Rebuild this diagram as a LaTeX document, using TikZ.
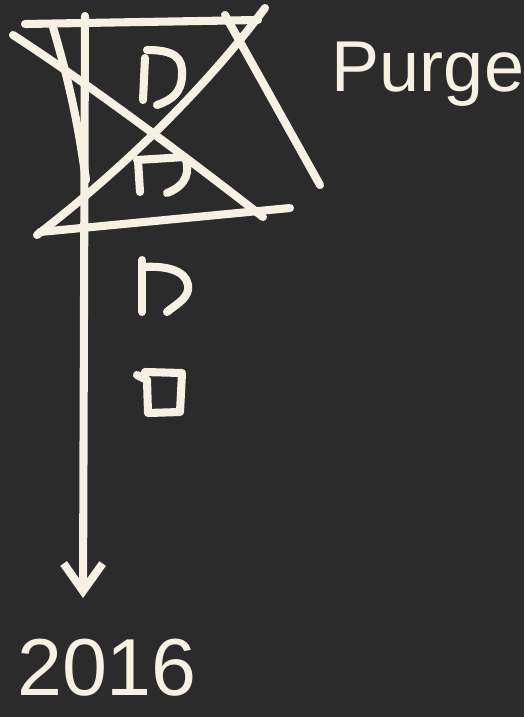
\documentclass[tikz,border=0pt]{standalone}
\usepackage{fontspec}
\setmainfont{Liberation Sans}
\usetikzlibrary{arrows.meta,positioning}
\definecolor{bddark}{HTML}{2B2B2C}
\definecolor{bdchalk}{HTML}{F6F1E3}

\begin{document}
\begin{tikzpicture}[x=0.02cm,y=-0.02cm,>=Latex]
        \tikzset{chalk/.style={draw=bdchalk,line width=4.6pt,line cap=round,line join=round},
          scrawl/.style={text=bdchalk,inner sep=0pt,font=\fontsize{41}{41}\selectfont}}
        \fill[bddark] (0,0) rectangle (524,717);
        % crossed-out block
        \draw[chalk] (25,24) -- (258,20);
        \draw[chalk] (40,232) -- (290,208);
        \draw[chalk] (53,27) to[bend left=4] (86,180);
        \draw[chalk] (225,15) -- (320,185);
        \draw[chalk] (13,35) .. controls (90,85) and (190,160) .. (263,217);
        \draw[chalk] (37,235) .. controls (115,175) and (200,95) .. (265,8);
        % records
        \draw[chalk] (145,58) -- (143,100);
        \draw[chalk] (147,50) .. controls (175,50) and (183,58) .. (182,75) .. controls (182,92) and (172,100) .. (157,105);
        \draw[chalk] (138,160) -- (140,192);
        \draw[chalk] (137,160) -- (185,157) .. controls (190,170) and (188,185) .. (167,193);
        \draw[chalk] (142,260) -- (142,312);
        \draw[chalk] (143,267) .. controls (175,265) and (190,275) .. (188,290) .. controls (186,300) and (175,305) .. (167,312);
        \draw[chalk] (137,375) -- (147,380) -- (148,413) -- (180,412) -- (182,373) -- (145,372);
        % labels
        \node[scrawl] (purge) at (428,74) {Purge};
        \node[scrawl,font=\fontsize{46}{46}\selectfont] (year) at (107,668) {2016};
        % timeline
        \coordinate (top) at (85,16);
        \coordinate (tip) at (83,598);
        \draw[chalk,-{Straight Barb[length=0.55cm,width=0.78cm]}] (top) -- (tip);
      \end{tikzpicture}
\end{document}
